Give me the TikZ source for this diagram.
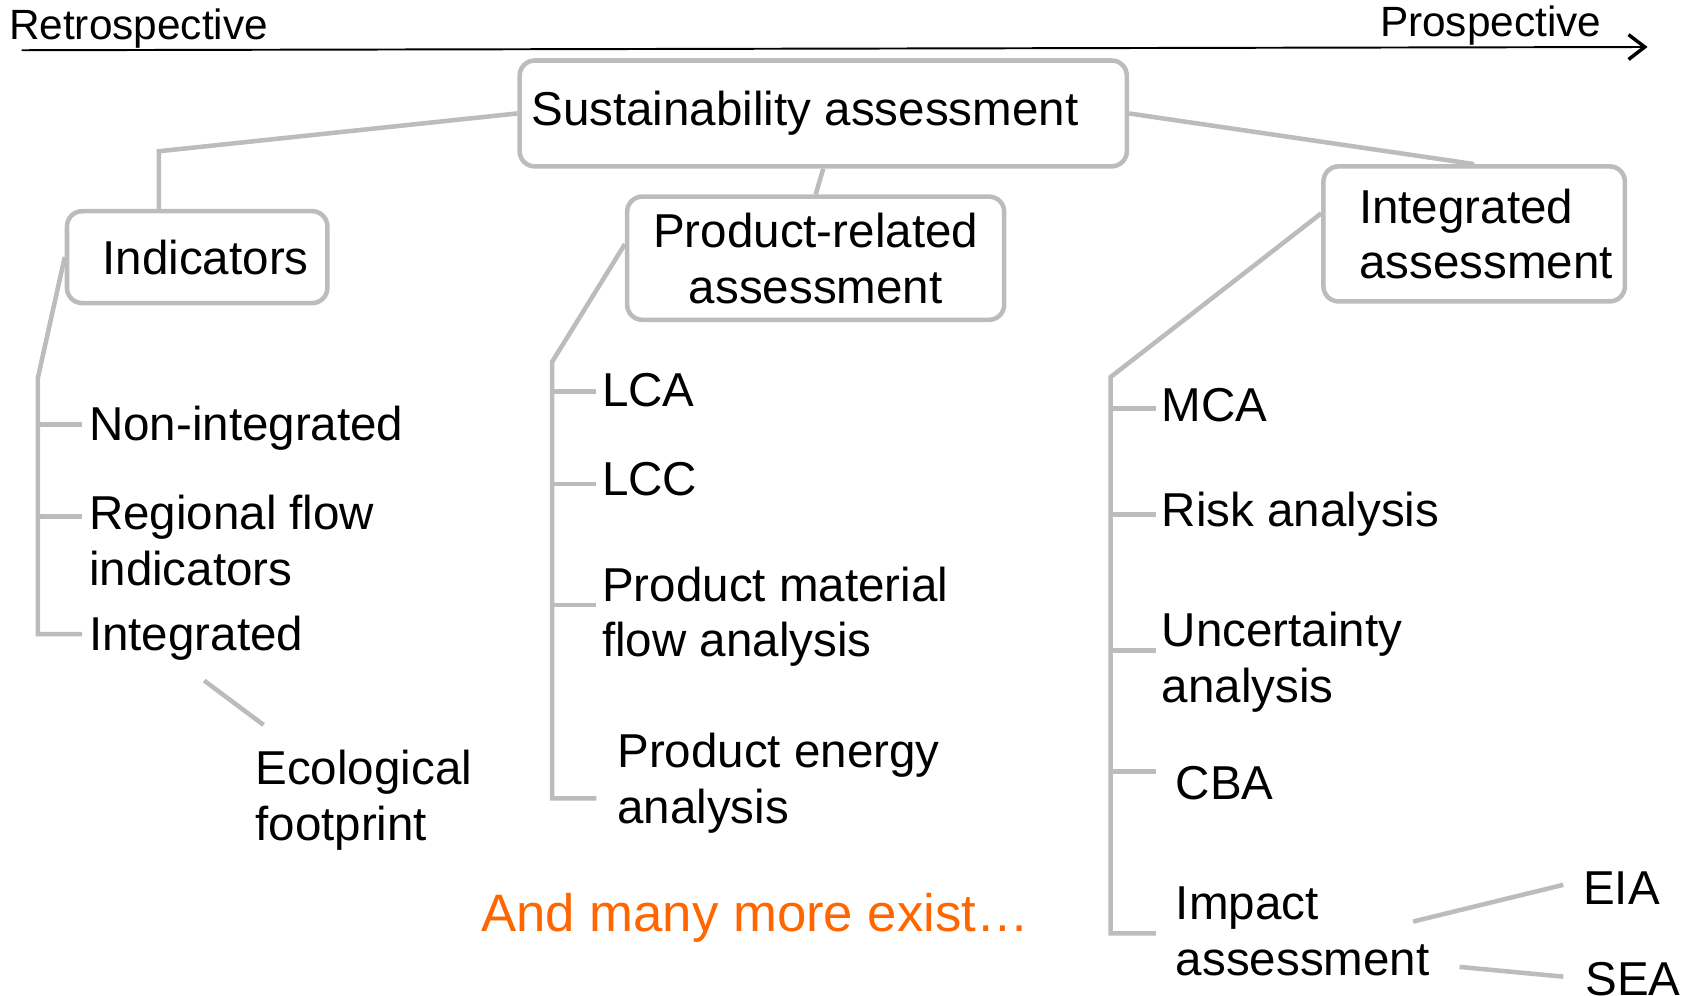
\documentclass[tikz,border=0pt]{standalone}
\usepackage{fontspec}
\setmainfont{Liberation Sans}
\usetikzlibrary{arrows.meta,calc}
\definecolor{linegray}{RGB}{188,188,188}
\definecolor{moreorange}{RGB}{255,102,0}
\begin{document}
\begin{tikzpicture}[x=0.5pt,y=-0.5pt,
  conn/.style={draw=linegray,line width=2.1pt},
  box/.style={draw=linegray,line width=2.1pt,rounded corners=7pt,inner sep=0pt,align=center,font=\fontsize{22}{25.8}\selectfont},
  lbl/.style={inner sep=0pt,anchor=base west,align=left,font=\fontsize{22}{25.8}\selectfont},
  axlbl/.style={inner sep=0pt,anchor=base west,font=\fontsize{19.6}{23}\selectfont},
]
\useasboundingbox (0,0) rectangle (1568,921);

% axis
\node[axlbl] (retro) at (8,37) {Retrospective};
\node[axlbl] (prosp) at (1277,34) {Prospective};
\coordinate (axL) at (20,46.5);
\coordinate (axR) at (1525,43.5);
\draw[line width=0.9pt,-{Straight Barb[length=7.5pt,width=11.5pt,line width=1.6pt]}] (axL) -- (axR);

% boxes
\node[box,minimum width=281pt,minimum height=49pt] (sust) at (762,105) {Sustainability assessment\hspace*{17pt}};
\node[box,minimum width=120.5pt,minimum height=42.5pt] (ind) at (182.5,238) {\hspace*{7.8pt}Indicators};
\node[box,minimum width=174.5pt,minimum height=57pt] (prod) at (755,239) {Product-related\\assessment};
\node[box,minimum width=139.5pt,minimum height=62.5pt,align=left] (integ) at (1364.5,216.5) {\hspace*{10.9pt}Integrated\\\hspace*{10.9pt}assessment};

% top connectors
\coordinate (c1) at (147,140);
\draw[conn] (sust.west) -- (c1) -- (c1 |- ind.north);
\draw[conn] (sust.south) -- (prod.north);
\draw[conn] (sust.east) -- (integ.north);

% left column (base of multi-line nodes = last line)
\node[lbl] (nonint) at (82,408) {Non-integrated};
\node[lbl] (regflow) at (82,542) {Regional flow\\indicators};
\node[lbl] (integr) at (82,602) {Integrated};
\node[lbl] (ecol) at (236,778) {Ecological\\footprint};
\coordinate (ib) at (35,350);
\coordinate (t1) at (76,393);
\coordinate (t2) at (76,478);
\coordinate (t3) at (76,587);
\draw[conn] (ind.west) -- (ib) -- (ib |- t3) -- (t3);
\draw[conn] (t1 -| ib) -- (t1);
\draw[conn] (t2 -| ib) -- (t2);
\coordinate (e1) at (189,630);
\coordinate (e2) at (244,671);
\draw[conn] (e1) -- (e2);

% middle column
\node[lbl] (lca) at (557,376) {LCA};
\node[lbl] (lcc) at (557,459) {LCC};
\node[lbl] (pmfa) at (557,608) {Product material\\flow analysis};
\node[lbl] (pea) at (571,762) {Product energy\\analysis};
\coordinate (pb) at (511,335);
\coordinate (p1) at (552,362.5);
\coordinate (p2) at (552,448);
\coordinate (p3) at (552,560);
\coordinate (p4) at (552,739);
\draw[conn] ($(prod.west)+(0,-13)$) -- (pb) -- (pb |- p4) -- (p4);
\draw[conn] (p1 -| pb) -- (p1);
\draw[conn] (p2 -| pb) -- (p2);
\draw[conn] (p3 -| pb) -- (p3);

% right column
\node[lbl] (mca) at (1075,390) {MCA};
\node[lbl] (risk) at (1075,487) {Risk analysis};
\node[lbl] (unc) at (1075,650) {Uncertainty\\analysis};
\node[lbl] (cba) at (1088,740) {CBA};
\node[lbl] (imp) at (1088,903) {Impact\\assessment};
\node[lbl] (eia) at (1465,837) {EIA};
\node[lbl] (sea) at (1467,921) {SEA};
\coordinate (rb) at (1028,349);
\coordinate (r1) at (1070,378);
\coordinate (r2) at (1070,476);
\coordinate (r3) at (1070,602);
\coordinate (r4) at (1070,714);
\coordinate (r5) at (1070,864);
\draw[conn] ($(integ.west)+(0,-19)$) -- (rb) -- (rb |- r5) -- (r5);
\draw[conn] (r1 -| rb) -- (r1);
\draw[conn] (r2 -| rb) -- (r2);
\draw[conn] (r3 -| rb) -- (r3);
\draw[conn] (r4 -| rb) -- (r4);
\coordinate (i1) at (1308,853);
\coordinate (i2) at (1447,819);
\coordinate (i3) at (1351,895);
\coordinate (i4) at (1447,904);
\draw[conn] (i1) -- (i2);
\draw[conn] (i3) -- (i4);

% note
\node[inner sep=0pt,anchor=base west,text=moreorange,font=\fontsize{24.4}{28}\selectfont] (more) at (445,862) {And many more exist…};
\end{tikzpicture}
\end{document}
